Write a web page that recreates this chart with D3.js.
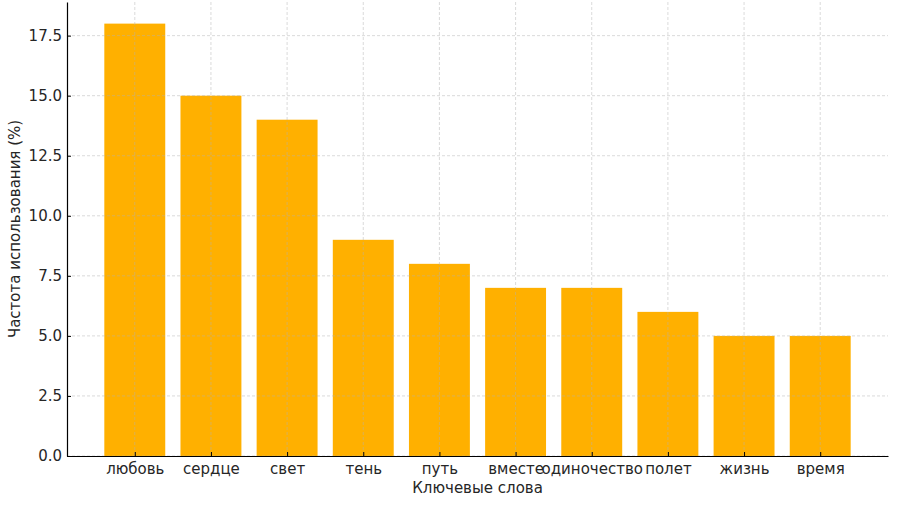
<!DOCTYPE html>
<html><head><meta charset="utf-8">
<script src="https://cdn.jsdelivr.net/npm/d3@7"></script>
<style>body{margin:0;background:#fff}svg{display:block}</style>
</head><body>
<script>
const categories = ["любовь","сердце","свет","тень","путь","вместе","одиночество","полет","жизнь","время"];
const values = [18,15,14,9,8,7,7,6,5,5];
const yTicks = [0,2.5,5,7.5,10,12.5,15,17.5];
const xLabel = "Ключевые слова";
const yLabel = "Частота использования (%)";

const W=898,H=505;
const m={left:67,right:10,top:2,bottom:49};
const iw=W-m.left-m.right, ih=H-m.top-m.bottom;
const svg=d3.select("body").append("svg").attr("width",W).attr("height",H);
const g=svg.append("g").attr("transform",`translate(${m.left},${m.top})`);
const n=categories.length;
const x=d3.scaleLinear().domain([-0.4-0.49,(n-1)+0.4+0.49]).range([0,iw]);
const y=d3.scaleLinear().domain([0,18*1.05]).range([ih,0]);
const font="DejaVu Sans";
const tc="#262626";

g.selectAll("rect").data(values).join("rect")
 .attr("x",(d,i)=>x(i-0.4)).attr("width",x(0.8)-x(0))
 .attr("y",d=>y(d)).attr("height",d=>y(0)-y(d)).attr("fill","#FFB000");

// grid
g.selectAll(".gy").data(yTicks).join("line").attr("x1",0).attr("x2",iw)
 .attr("y1",d=>y(d)).attr("y2",d=>y(d)).attr("stroke","#b0b0b0").attr("stroke-opacity",0.6)
 .attr("stroke-dasharray","3,2").attr("stroke-width",0.8);
g.selectAll(".gx").data(categories).join("line").attr("y1",0).attr("y2",ih)
 .attr("x1",(d,i)=>x(i)).attr("x2",(d,i)=>x(i)).attr("stroke","#b0b0b0").attr("stroke-opacity",0.6)
 .attr("stroke-dasharray","3,2").attr("stroke-width",0.8);

const ya=d3.axisLeft(y).tickValues(yTicks).tickFormat(d3.format(".1f")).tickSizeInner(-4).tickSizeOuter(0).tickPadding(5);
const yg=g.append("g").call(ya);
yg.select(".domain").attr("stroke","#000").attr("stroke-width",1.2);
yg.selectAll(".tick line").attr("stroke","#000");
yg.selectAll("text").attr("font-family",font).attr("font-size",15).attr("fill",tc);

const xa=d3.axisBottom(x).tickValues(d3.range(n)).tickFormat(i=>categories[i]).tickSizeInner(-4).tickSizeOuter(0).tickPadding(7);
const xg=g.append("g").attr("transform",`translate(0,${ih})`).call(xa);
xg.select(".domain").attr("stroke","#000").attr("stroke-width",1.2);
xg.selectAll(".tick line").attr("stroke","#000");
xg.selectAll("text").attr("font-family",font).attr("font-size",15).attr("fill",tc);

svg.append("text").attr("x",m.left+iw/2).attr("y",493).attr("text-anchor","middle")
 .attr("font-family",font).attr("font-size",15).attr("fill",tc).text(xLabel);
svg.append("text").attr("transform",`translate(20,${m.top+ih/2}) rotate(-90)`).attr("text-anchor","middle")
 .attr("font-family",font).attr("font-size",15).attr("fill",tc).text(yLabel);
</script>
</body></html>
